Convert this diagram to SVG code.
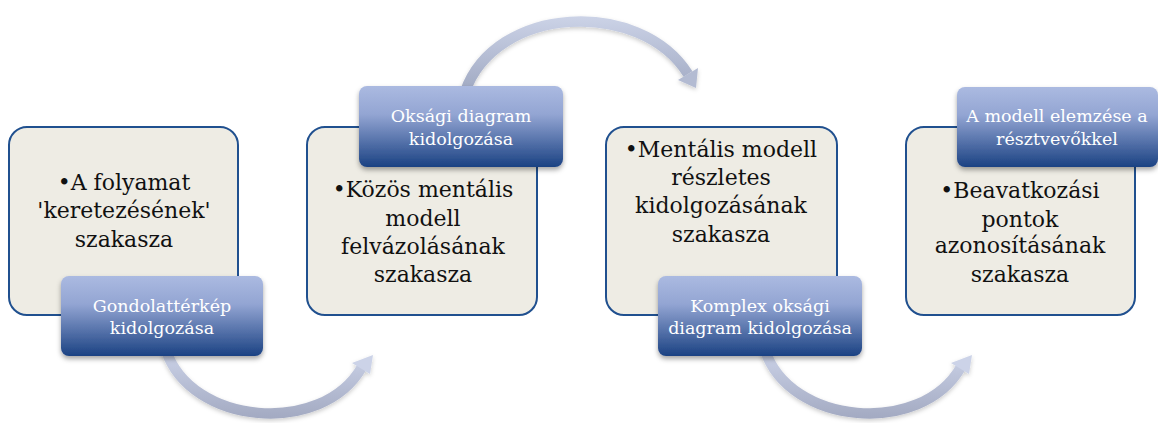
<svg xmlns="http://www.w3.org/2000/svg" width="1158" height="423" viewBox="0 0 1158 423">
<defs>
<style>
.box{fill:#eeece4;stroke:#20508f;stroke-width:2}
.lab{fill:url(#labg);filter:url(#sh)}
.bt{font-family:"DejaVu Serif","Liberation Serif",serif;font-size:22px;fill:#111;text-anchor:middle}
.lt{font-family:"DejaVu Serif","Liberation Serif",serif;font-size:17.5px;fill:#fff;text-anchor:middle}
.arc{fill:none;stroke-width:10.5}
</style>
<linearGradient id="labg" x1="0" y1="0" x2="0" y2="1">
<stop offset="0" stop-color="#abbae1"/>
<stop offset="0.35" stop-color="#93a5d3"/>
<stop offset="1" stop-color="#1b4283"/>
</linearGradient>
<linearGradient id="ga1" gradientUnits="userSpaceOnUse" x1="0" y1="350" x2="0" y2="418">
<stop offset="0" stop-color="#ccd3e8"/>
<stop offset="1" stop-color="#a3aac2"/>
</linearGradient>
<linearGradient id="ga2" gradientUnits="userSpaceOnUse" x1="0" y1="12" x2="0" y2="92">
<stop offset="0" stop-color="#ced5e9"/>
<stop offset="1" stop-color="#a0a9c2"/>
</linearGradient>
<filter id="sh" x="-10%" y="-10%" width="120%" height="130%">
<feDropShadow dx="0" dy="3" stdDeviation="2.5" flood-color="#000" flood-opacity="0.35"/>
</filter>
<filter id="ash" x="-10%" y="-10%" width="120%" height="130%">
<feDropShadow dx="0" dy="2" stdDeviation="2" flood-color="#000" flood-opacity="0.2"/>
</filter>
</defs>

<g id="box1"><rect class="box" x="9" y="127" width="229" height="188" rx="18"/>
<text class="bt"><tspan x="124" y="190">•A folyamat</tspan><tspan x="124" y="218">'keretezésének'</tspan><tspan x="124" y="247">szakasza</tspan></text></g>
<g id="box2"><rect class="box" x="307" y="127" width="230" height="188" rx="18"/>
<text class="bt"><tspan x="423" y="197">•Közös mentális</tspan><tspan x="423" y="226">modell</tspan><tspan x="423" y="254">felvázolásának</tspan><tspan x="423" y="282">szakasza</tspan></text></g>
<g id="box3"><rect class="box" x="606" y="127" width="231" height="188" rx="18"/>
<text class="bt"><tspan x="721" y="157">•Mentális modell</tspan><tspan x="721" y="185">részletes</tspan><tspan x="721" y="213">kidolgozásának</tspan><tspan x="721" y="242">szakasza</tspan></text></g>
<g id="box4"><rect class="box" x="906" y="127" width="229" height="188" rx="18"/>
<text class="bt"><tspan x="1020" y="198">•Beavatkozási</tspan><tspan x="1020" y="227">pontok</tspan><tspan x="1020" y="253">azonosításának</tspan><tspan x="1020" y="282">szakasza</tspan></text></g>

<g id="connectors">
<g filter="url(#ash)">
<path class="arc" stroke="url(#ga1)" d="M166 350 C190 425 322 437 362 367"/>
<polygon fill="#ccd3e8" points="373,355 352,363 370,374"/>
</g>
<g filter="url(#ash)">
<path class="arc" stroke="url(#ga2)" d="M465 92 C495 5 640 -2 688 74"/>
<polygon fill="#b3bbd2" points="678,80 698,68 696,88"/>
</g>
<g filter="url(#ash)" transform="translate(599,0)">
<path class="arc" stroke="url(#ga1)" d="M166 350 C190 425 322 437 362 367"/>
<polygon fill="#ccd3e8" points="373,355 352,363 370,374"/>
</g>
</g>

<g id="label1"><rect class="lab" x="61" y="276" width="202" height="80" rx="8"/>
<text class="lt"><tspan x="162" y="312">Gondolattérkép</tspan><tspan x="162" y="334">kidolgozása</tspan></text></g>
<g id="label2"><rect class="lab" x="359" y="86" width="204" height="81" rx="8"/>
<text class="lt"><tspan x="461" y="122">Oksági diagram</tspan><tspan x="461" y="145">kidolgozása</tspan></text></g>
<g id="label3"><rect class="lab" x="658" y="276" width="204" height="80" rx="8"/>
<text class="lt"><tspan x="760" y="312">Komplex oksági</tspan><tspan x="760" y="334">diagram kidolgozása</tspan></text></g>
<g id="label4"><rect class="lab" x="957" y="87" width="201" height="80" rx="8"/>
<text class="lt"><tspan x="1057" y="122">A modell elemzése a</tspan><tspan x="1057" y="145">résztvevőkkel</tspan></text></g>
</svg>
